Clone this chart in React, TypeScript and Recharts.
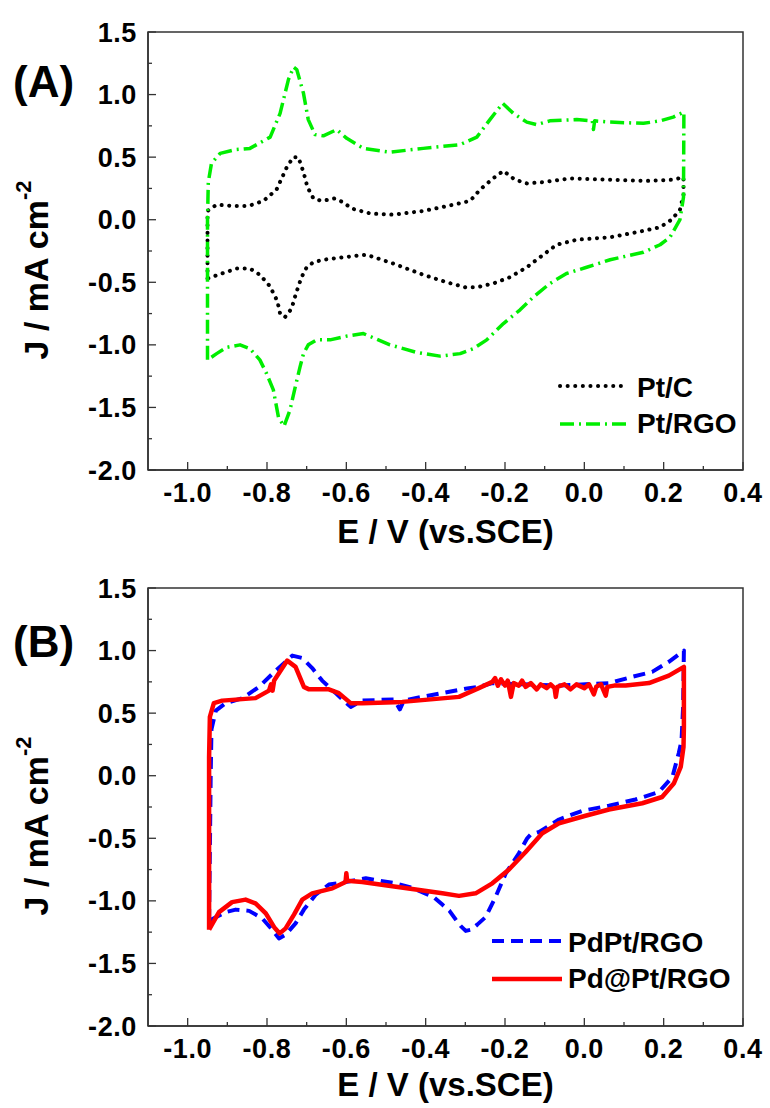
import React from 'react';
import { LineChart, Line, XAxis, YAxis, ReferenceArea, Legend } from 'recharts';

type Pt = [number, number];

// Axis ticks (major ones carry a label, minor ones are short marks only)
const xMajor = [-1.0, -0.8, -0.6, -0.4, -0.2, 0.0, 0.2, 0.4];
const xMinor = [-0.9, -0.7, -0.5, -0.3, -0.1, 0.1, 0.3];
const yMajor = [-2.0, -1.5, -1.0, -0.5, 0.0, 0.5, 1.0, 1.5];
const yMinor = [-1.75, -1.25, -0.75, -0.25, 0.25, 0.75, 1.25];

// CV loops: [E (V vs. SCE), J (mA cm^-2)], anodic sweep from -0.95 V then back
const ptC: Pt[] = [
  [-0.95, -0.47], [-0.95, -0.23], [-0.95, 0.07], [-0.927, 0.12], [-0.885, 0.11], [-0.847, 0.11],
  [-0.809, 0.15], [-0.776, 0.24], [-0.75, 0.42], [-0.734, 0.5], [-0.721, 0.5], [-0.708, 0.38],
  [-0.698, 0.26], [-0.683, 0.17], [-0.662, 0.15], [-0.629, 0.17], [-0.608, 0.14], [-0.587, 0.09],
  [-0.54, 0.05], [-0.482, 0.04], [-0.406, 0.07], [-0.33, 0.12], [-0.288, 0.15], [-0.263, 0.24],
  [-0.23, 0.33], [-0.204, 0.39], [-0.175, 0.32], [-0.145, 0.29], [-0.104, 0.3], [-0.036, 0.33],
  [0.065, 0.32], [0.157, 0.31], [0.224, 0.32], [0.25, 0.34], [0.25, 0.2], [0.241, 0.08],
  [0.22, 0.0], [0.191, -0.06], [0.132, -0.1], [0.065, -0.14], [-0.019, -0.16], [-0.07, -0.2],
  [-0.112, -0.3], [-0.145, -0.38], [-0.188, -0.46], [-0.23, -0.51], [-0.271, -0.54], [-0.3, -0.54],
  [-0.347, -0.5], [-0.406, -0.44], [-0.482, -0.35], [-0.549, -0.28], [-0.608, -0.3], [-0.658, -0.32],
  [-0.683, -0.34], [-0.7, -0.38], [-0.713, -0.46], [-0.727, -0.59], [-0.738, -0.71], [-0.755, -0.78],
  [-0.767, -0.75], [-0.774, -0.65], [-0.793, -0.53], [-0.818, -0.44], [-0.843, -0.39], [-0.876, -0.39],
  [-0.914, -0.43], [-0.95, -0.47],
];

const ptRgo: Pt[] = [
  [-0.95, -1.12], [-0.95, -1.0], [-0.95, 0.0], [-0.948, 0.3], [-0.94, 0.45], [-0.918, 0.53],
  [-0.88, 0.56], [-0.843, 0.57], [-0.792, 0.66], [-0.767, 0.85], [-0.746, 1.12], [-0.733, 1.22],
  [-0.725, 1.2], [-0.708, 1.01], [-0.696, 0.8], [-0.679, 0.68], [-0.658, 0.67], [-0.624, 0.72],
  [-0.599, 0.65], [-0.557, 0.57], [-0.49, 0.54], [-0.406, 0.57], [-0.313, 0.6], [-0.271, 0.66],
  [-0.238, 0.8], [-0.206, 0.93], [-0.179, 0.85], [-0.145, 0.78], [-0.12, 0.76], [-0.087, 0.79],
  [-0.019, 0.8], [0.02, 0.79], [0.023, 0.72], [0.026, 0.79], [0.065, 0.78], [0.149, 0.77],
  [0.191, 0.79], [0.224, 0.82], [0.251, 0.86], [0.25, 0.18], [0.241, 0.0], [0.216, -0.14],
  [0.191, -0.2], [0.149, -0.26], [0.065, -0.32], [0.006, -0.38], [-0.045, -0.43], [-0.087, -0.51],
  [-0.129, -0.62], [-0.162, -0.72], [-0.204, -0.83], [-0.246, -0.96], [-0.28, -1.03], [-0.313, -1.07],
  [-0.364, -1.09], [-0.423, -1.06], [-0.49, -1.0], [-0.557, -0.91], [-0.599, -0.93], [-0.641, -0.96],
  [-0.675, -0.96], [-0.696, -1.0], [-0.708, -1.07], [-0.717, -1.18], [-0.729, -1.34], [-0.742, -1.52],
  [-0.757, -1.65], [-0.771, -1.58], [-0.784, -1.36], [-0.801, -1.23], [-0.818, -1.12], [-0.843, -1.03],
  [-0.868, -1.0], [-0.902, -1.02], [-0.927, -1.07], [-0.95, -1.12],
];

const pdPtRgo: Pt[] = [
  [-0.946, -1.16], [-0.944, -0.6], [-0.942, -0.01], [-0.94, 0.37], [-0.929, 0.52], [-0.904, 0.58],
  [-0.862, 0.62], [-0.82, 0.71], [-0.778, 0.84], [-0.736, 0.96], [-0.711, 0.94], [-0.686, 0.86],
  [-0.661, 0.76], [-0.627, 0.66], [-0.589, 0.55], [-0.56, 0.6], [-0.48, 0.61], [-0.465, 0.53],
  [-0.455, 0.6], [-0.409, 0.63], [-0.291, 0.7], [-0.266, 0.71], [-0.232, 0.74], [-0.064, 0.72],
  [0.062, 0.74], [0.121, 0.79], [0.171, 0.83], [0.213, 0.91], [0.251, 1.0], [0.249, 0.55],
  [0.245, 0.28], [0.238, 0.18], [0.222, -0.01], [0.188, -0.13], [0.129, -0.19], [0.062, -0.24],
  [-0.005, -0.28], [-0.064, -0.35], [-0.114, -0.45], [-0.135, -0.47], [-0.144, -0.5], [-0.165, -0.62],
  [-0.198, -0.78], [-0.224, -0.97], [-0.249, -1.13], [-0.27, -1.19], [-0.285, -1.23], [-0.299, -1.24],
  [-0.312, -1.2], [-0.324, -1.15], [-0.34, -1.08], [-0.358, -1.03], [-0.38, -0.97], [-0.409, -0.93],
  [-0.44, -0.89], [-0.476, -0.86], [-0.551, -0.82], [-0.602, -0.85], [-0.644, -0.87], [-0.677, -0.95],
  [-0.707, -1.07], [-0.728, -1.18], [-0.753, -1.27], [-0.77, -1.3], [-0.787, -1.23], [-0.812, -1.14],
  [-0.845, -1.08], [-0.879, -1.07], [-0.904, -1.09], [-0.929, -1.13], [-0.946, -1.16],
];

const pdAtPtRgo: Pt[] = [
  [-0.946, -1.23], [-0.946, 0.15], [-0.944, 0.47], [-0.934, 0.58], [-0.913, 0.6], [-0.829, 0.62],
  [-0.795, 0.68], [-0.79, 0.73], [-0.786, 0.68], [-0.782, 0.76], [-0.749, 0.92], [-0.728, 0.87],
  [-0.707, 0.71], [-0.694, 0.69], [-0.644, 0.69], [-0.619, 0.66], [-0.589, 0.58], [-0.56, 0.58],
  [-0.459, 0.59], [-0.316, 0.63], [-0.266, 0.7], [-0.232, 0.75], [-0.225, 0.78], [-0.218, 0.72],
  [-0.21, 0.77], [-0.2, 0.72], [-0.193, 0.76], [-0.185, 0.63], [-0.178, 0.74], [-0.165, 0.72],
  [-0.157, 0.76], [-0.148, 0.71], [-0.135, 0.74], [-0.12, 0.69], [-0.11, 0.73], [-0.095, 0.7],
  [-0.085, 0.73], [-0.075, 0.7], [-0.072, 0.63], [-0.068, 0.71], [-0.05, 0.73], [-0.035, 0.69],
  [-0.02, 0.73], [0.0, 0.7], [0.012, 0.73], [0.024, 0.65], [0.03, 0.71], [0.042, 0.73],
  [0.054, 0.64], [0.058, 0.71], [0.075, 0.72], [0.104, 0.72], [0.163, 0.74], [0.213, 0.8],
  [0.251, 0.87], [0.251, 0.39], [0.25, 0.23], [0.243, 0.07], [0.226, -0.06], [0.196, -0.17],
  [0.146, -0.22], [0.062, -0.27], [0.003, -0.32], [-0.064, -0.38], [-0.106, -0.46], [-0.148, -0.61],
  [-0.19, -0.75], [-0.232, -0.86], [-0.274, -0.94], [-0.316, -0.96], [-0.358, -0.94], [-0.425, -0.91],
  [-0.493, -0.88], [-0.56, -0.85], [-0.598, -0.84], [-0.6, -0.78], [-0.602, -0.85], [-0.635, -0.9],
  [-0.686, -0.94], [-0.711, -0.99], [-0.732, -1.11], [-0.753, -1.22], [-0.768, -1.26], [-0.782, -1.21],
  [-0.803, -1.1], [-0.829, -1.02], [-0.854, -0.99], [-0.888, -1.01], [-0.921, -1.09], [-0.946, -1.23],
];

const FONT = '"Liberation Sans", Arial, Helvetica, sans-serif';
const AXIS = '#333';
const W = 770;
const H = 556;

interface Series {
  name: string;
  data: Pt[];
  color: string;
  dash?: string;
  width: number;
  cap: 'round' | 'butt';
}

const panelA: Series[] = [
  { name: 'Pt/C', data: ptC, color: '#000000', dash: '0.1 7.5', width: 4, cap: 'round' },
  { name: 'Pt/RGO', data: ptRgo, color: '#00ee00', dash: '14 5 2 5', width: 3.5, cap: 'butt' },
];

const panelB: Series[] = [
  { name: 'PdPt/RGO', data: pdPtRgo, color: '#0000ff', dash: '12 7', width: 4, cap: 'butt' },
  { name: 'Pd@Pt/RGO', data: pdAtPtRgo, color: '#ff0000', width: 4.5, cap: 'butt' },
];

const has = (list: number[], v: number) => list.some((t) => Math.abs(t - v) < 1e-6);

const XTick = (props: any) => {
  const { x, y, payload } = props;
  const major = has(xMajor, payload.value);
  return (
    <g>
      <line x1={x} x2={x} y1={y} y2={y - (major ? 8 : 4)} stroke={AXIS} strokeWidth={1.3} />
      {major && (
        <text x={x} y={y + 32} textAnchor="middle" fontFamily={FONT} fontSize={27} letterSpacing={0.6} fontWeight="bold" fill="#000">
          {payload.value.toFixed(1)}
        </text>
      )}
    </g>
  );
};

const YTick = (props: any) => {
  const { x, y, payload } = props;
  const major = has(yMajor, payload.value);
  return (
    <g>
      <line x1={x} x2={x + (major ? 8 : 4)} y1={y} y2={y} stroke={AXIS} strokeWidth={1.3} />
      {major && (
        <text x={x - 11} y={y + 9.5} textAnchor="end" fontFamily={FONT} fontSize={27} letterSpacing={0.6} fontWeight="bold" fill="#000">
          {payload.value.toFixed(1)}
        </text>
      )}
    </g>
  );
};

const makeLegend = (series: Series[], lineLen: number, textX: number) => () => (
  <svg width={240} height={76} style={{ overflow: 'visible' }}>
    {series.map((s, i) => (
      <g key={s.name}>
        <line
          x1={4}
          x2={4 + lineLen}
          y1={16 + i * 38}
          y2={16 + i * 38}
          stroke={s.color}
          strokeWidth={s.width}
          strokeDasharray={s.dash}
          strokeLinecap={s.cap}
        />
        <text x={textX} y={27 + i * 36} fontFamily={FONT} fontSize={28} fontWeight="bold" fill="#000">
          {s.name}
        </text>
      </g>
    ))}
  </svg>
);

interface PanelProps {
  top: number;
  tag: string;
  tagBaseline: number;
  titleBaseline: number;
  series: Series[];
  legendLeft: number;
  legendTop: number;
  legendLine: number;
  legendText: number;
}

const Panel = ({ top, tag, tagBaseline, titleBaseline, series, legendLeft, legendTop, legendLine, legendText }: PanelProps) => (
  <div style={{ position: 'absolute', left: 0, top, width: W, height: H }}>
    <LineChart width={W} height={H} margin={{ top: 32, right: 27, bottom: 26, left: 68 }}>
      <XAxis
        type="number"
        dataKey="E"
        domain={[-1.1, 0.4]}
        allowDataOverflow
        ticks={[...xMajor, ...xMinor].sort((a, b) => a - b)}
        interval={0}
        height={60}
        tickSize={0}
        tickMargin={0}
        tickLine={false}
        tick={<XTick />}
        axisLine={{ stroke: AXIS, strokeWidth: 1.5 }}
      />
      <YAxis
        type="number"
        dataKey="J"
        domain={[-2, 1.5]}
        allowDataOverflow
        ticks={[...yMajor, ...yMinor].sort((a, b) => a - b)}
        interval={0}
        width={80}
        tickSize={0}
        tickMargin={0}
        tickLine={false}
        tick={<YTick />}
        axisLine={{ stroke: AXIS, strokeWidth: 1.5 }}
      />
      <ReferenceArea x1={-1.1} x2={0.4} y1={-2} y2={1.5} fill="none" stroke={AXIS} strokeWidth={1.5} />
      {series.map((s) => (
        <Line
          key={s.name}
          name={s.name}
          data={s.data.map(([E, J]) => ({ E, J }))}
          dataKey="J"
          type="linear"
          stroke={s.color}
          strokeWidth={s.width}
          strokeDasharray={s.dash}
          strokeLinecap={s.cap}
          strokeLinejoin="round"
          dot={false}
          activeDot={false}
          isAnimationActive={false}
        />
      ))}
      <Legend
        layout="vertical"
        align="center"
        verticalAlign="middle"
        content={makeLegend(series, legendLine, legendText)}
        wrapperStyle={{ left: legendLeft, top: legendTop, width: 240, height: 76 }}
      />
    </LineChart>
    <svg width={W} height={H} style={{ position: 'absolute', left: 0, top: 0, pointerEvents: 'none' }}>
      <text x={13} y={tagBaseline} fontFamily={FONT} fontSize={44} fontWeight="bold" fill="#000">
        {tag}
      </text>
      <text x={445.5} y={titleBaseline} textAnchor="middle" fontFamily={FONT} fontSize={33} fontWeight="bold" fill="#000">
        E / V (vs.SCE)
      </text>
      <text
        transform="translate(48, 270) rotate(-90)"
        textAnchor="middle"
        fontFamily={FONT}
        fontSize={34}
        fontWeight="bold"
        fill="#000"
      >
        J / mA cm
        <tspan dy={-17} fontSize={22}>-2</tspan>
      </text>
    </svg>
  </div>
);

export default function App() {
  return (
    <div style={{ position: 'absolute', left: 0, top: 0, width: W, height: 1108, background: '#fff' }}>
      <Panel
        top={0}
        tag="(A)"
        tagBaseline={97}
        titleBaseline={543}
        series={panelA}
        legendLeft={556}
        legendTop={370}
        legendLine={68}
        legendText={81}
      />
      <Panel
        top={556}
        tag="(B)"
        tagBaseline={101}
        titleBaseline={540}
        series={panelB}
        legendLeft={488}
        legendTop={369}
        legendLine={70}
        legendText={80}
      />
    </div>
  );
}
